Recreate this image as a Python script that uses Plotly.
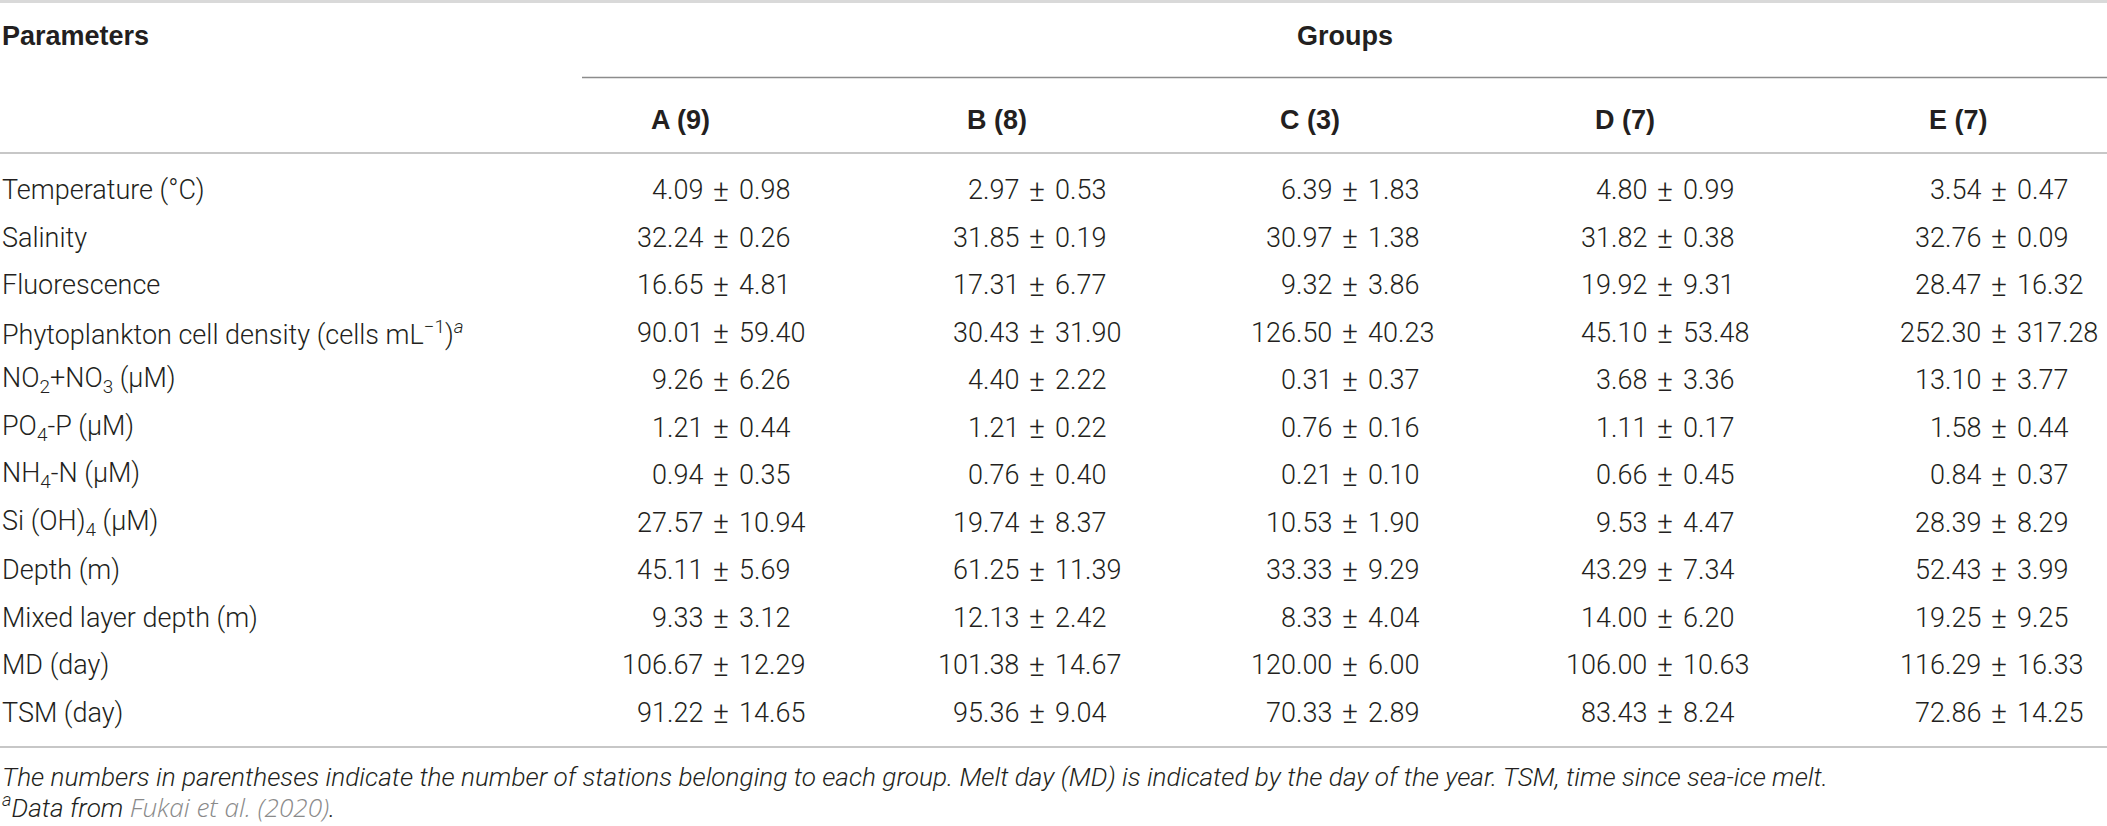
import plotly.graph_objects as go

W, H = 2107, 826

parameters = [
    "Temperature (°C)",
    "Salinity",
    "Fluorescence",
    "Phytoplankton cell density (cells mL<sup>−1</sup>)<sup><i>a</i></sup>",
    "NO<sub>2</sub>+NO<sub>3</sub> (μM)",
    "PO<sub>4</sub>-P (μM)",
    "NH<sub>4</sub>-N (μM)",
    "Si (OH)<sub>4</sub> (μM)",
    "Depth (m)",
    "Mixed layer depth (m)",
    "MD (day)",
    "TSM (day)",
]

groups = ["A (9)", "B (8)", "C (3)", "D (7)", "E (7)"]

mean_A = ["4.09", "32.24", "16.65", "90.01", "9.26", "1.21", "0.94", "27.57", "45.11", "9.33", "106.67", "91.22"]
sd_A = ["0.98", "0.26", "4.81", "59.40", "6.26", "0.44", "0.35", "10.94", "5.69", "3.12", "12.29", "14.65"]
mean_B = ["2.97", "31.85", "17.31", "30.43", "4.40", "1.21", "0.76", "19.74", "61.25", "12.13", "101.38", "95.36"]
sd_B = ["0.53", "0.19", "6.77", "31.90", "2.22", "0.22", "0.40", "8.37", "11.39", "2.42", "14.67", "9.04"]
mean_C = ["6.39", "30.97", "9.32", "126.50", "0.31", "0.76", "0.21", "10.53", "33.33", "8.33", "120.00", "70.33"]
sd_C = ["1.83", "1.38", "3.86", "40.23", "0.37", "0.16", "0.10", "1.90", "9.29", "4.04", "6.00", "2.89"]
mean_D = ["4.80", "31.82", "19.92", "45.10", "3.68", "1.11", "0.66", "9.53", "43.29", "14.00", "106.00", "83.43"]
sd_D = ["0.99", "0.38", "9.31", "53.48", "3.36", "0.17", "0.45", "4.47", "7.34", "6.20", "10.63", "8.24"]
mean_E = ["3.54", "32.76", "28.47", "252.30", "13.10", "1.58", "0.84", "28.39", "52.43", "19.25", "116.29", "72.86"]
sd_E = ["0.47", "0.09", "16.32", "317.28", "3.77", "0.44", "0.37", "8.29", "3.99", "9.25", "16.33", "14.25"]

means = [mean_A, mean_B, mean_C, mean_D, mean_E]
sds = [sd_A, sd_B, sd_C, sd_D, sd_E]

footnote_1 = ("The numbers in parentheses indicate the number of stations belonging to each group. "
              "Melt day (MD) is indicated by the day of the year. TSM, time since sea-ice melt.")
footnote_2 = ("<sup>a</sup>Data from "
              "<span style='color:#8a8a8a;font-family:Open Sans'>Fukai et al. (2020)</span>.")

# ---------------- layout constants ----------------
TXT = "#231f20"
LIGHT = dict(family="Roboto", size=27, color=TXT, weight=300)
PM = dict(family="Roboto", size=30, color=TXT, weight=300)
BOLD = dict(family="Liberation Sans", size=27, color=TXT, weight="bold")
ITAL = dict(family="Roboto", size=26.2, color=TXT, weight=300, style="italic")

col_left = [649, 965, 1278, 1593, 1927]
pm_offset = 72
gap = 16
row0, row_h = 190, 47.5

fig = go.Figure()
fig.add_trace(go.Scatter(x=[0, W], y=[0, H], mode="markers", marker=dict(opacity=0),
                         hoverinfo="skip", showlegend=False))

ann = []
def add(text, x, y, xanchor, font):
    ann.append(dict(text=text, x=x, y=y, xref="x", yref="y", xanchor=xanchor,
                    yanchor="middle", showarrow=False, font=font, align="left"))

add("Parameters", 0, 36, "left", BOLD)
add("Groups", 1345, 36, "center", BOLD)
for j, g in enumerate(groups):
    add(g, col_left[j], 120, "left", BOLD)

for i, p in enumerate(parameters):
    y = row0 + i * row_h
    add(p, 0, y, "left", LIGHT)
    for j in range(len(groups)):
        px = col_left[j] + pm_offset
        add(means[j][i], px - gap, y, "right", LIGHT)
        add("±", px, y, "center", PM)
        add(sds[j][i], px + gap, y, "left", LIGHT)

add(footnote_1, 0, 777, "left", ITAL)
add(footnote_2, 0, 807, "left", ITAL)

shapes = [
    dict(type="line", x0=0, x1=W, y0=1.5, y1=1.5, xref="x", yref="y",
         line=dict(color="#d9d9d9", width=3)),
    dict(type="line", x0=582, x1=W, y0=77.5, y1=77.5, xref="x", yref="y",
         line=dict(color="#8c8c8c", width=1.5)),
    dict(type="line", x0=0, x1=W, y0=153, y1=153, xref="x", yref="y",
         line=dict(color="#b5b5b5", width=1.5)),
    dict(type="line", x0=0, x1=W, y0=747, y1=747, xref="x", yref="y",
         line=dict(color="#b5b5b5", width=1.5)),
]

fig.update_layout(
    width=W, height=H, margin=dict(l=0, r=0, t=0, b=0),
    paper_bgcolor="white", plot_bgcolor="white",
    xaxis=dict(range=[0, W], visible=False, fixedrange=True),
    yaxis=dict(range=[H, 0], visible=False, fixedrange=True),
    annotations=ann, shapes=shapes, showlegend=False,
)

fig.write_html("out.html", config={"displayModeBar": False},
               post_script="document.body.style.margin='0';document.body.style.overflow='hidden';")
